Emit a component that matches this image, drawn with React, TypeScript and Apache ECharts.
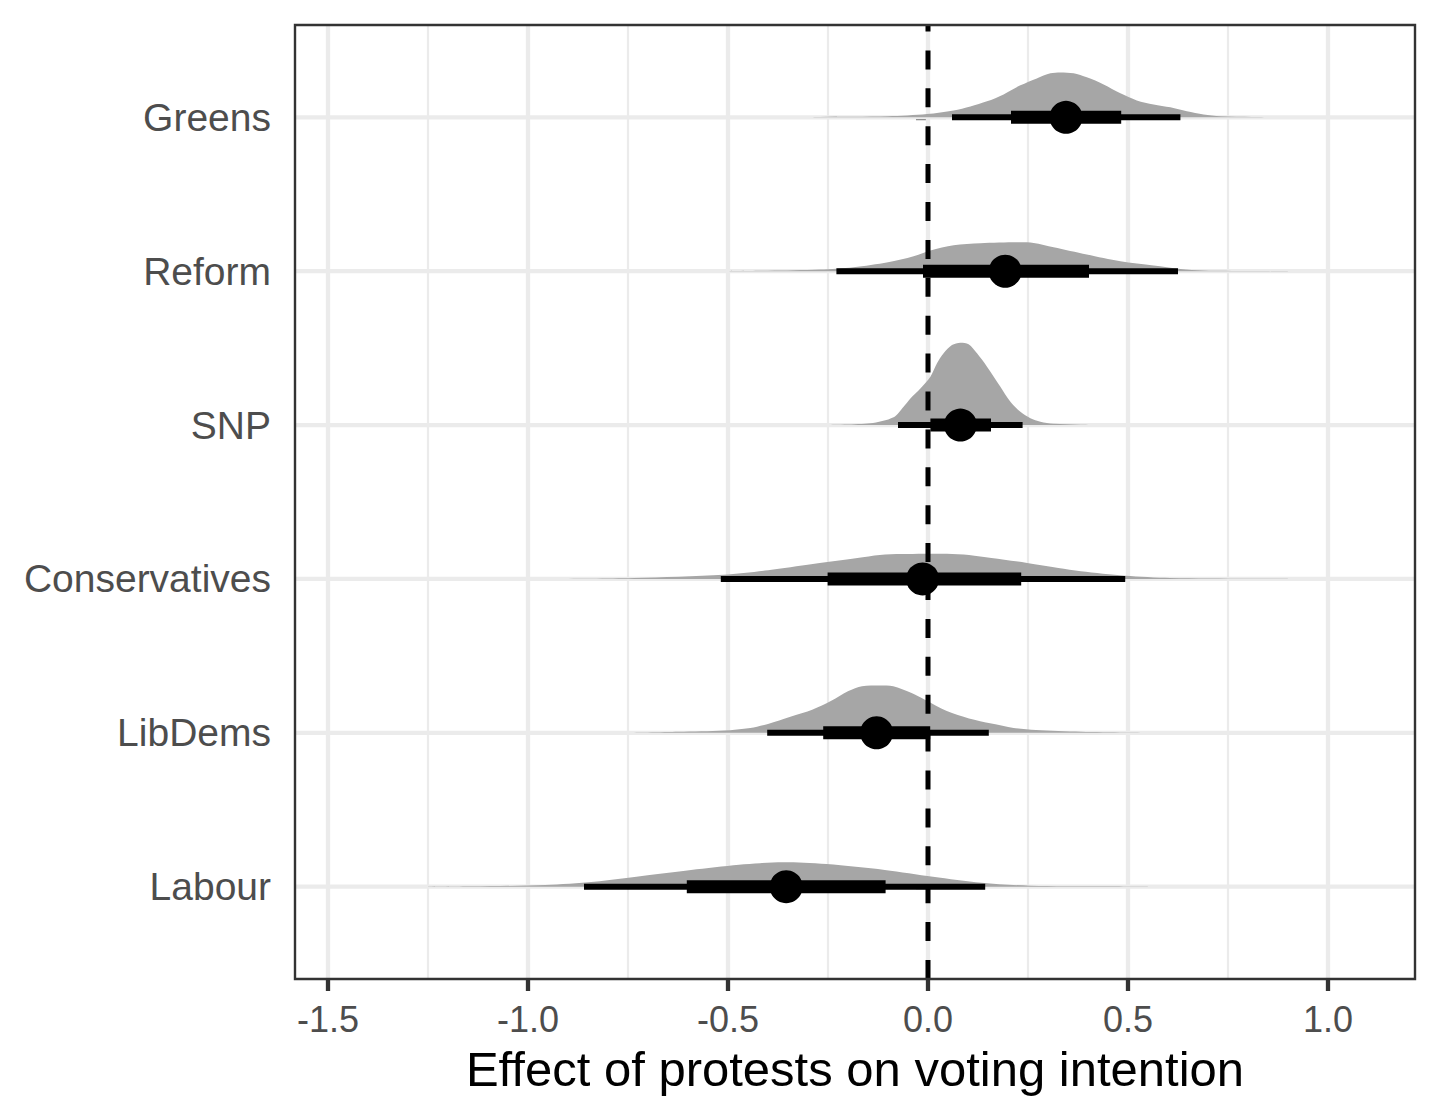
import React, { useEffect, useRef } from "react";
import * as echarts from "echarts";

// ---- categories (bottom to top) ----
const PARTIES = ["Labour", "LibDems", "Conservatives", "SNP", "Reform", "Greens"];

// ---- axis ticks ----
const X_TICKS = [-1.5, -1.0, -0.5, 0.0, 0.5, 1.0];
const X_MINOR = [-1.25, -0.75, -0.25, 0.25, 0.75];
const Y_TICKS = [1, 2, 3, 4, 5, 6];
const X_TITLE = "Effect of protests on voting intention";

// ---- point estimates and intervals (same order as PARTIES) ----
const POINT = [-0.3545, -0.1285, -0.0135, 0.081, 0.193, 0.345];
const THICK_LO = [-0.603, -0.262, -0.251, 0.006, -0.0125, 0.2075];
const THICK_HI = [-0.106, 0.0055, 0.233, 0.1575, 0.4025, 0.483];
const THIN_LO = [-0.86, -0.402, -0.518, -0.075, -0.229, 0.06];
const THIN_HI = [0.143, 0.152, 0.493, 0.2365, 0.625, 0.631];

// ---- densities (height in units of category spacing) ----
const LABOUR_X = [-1.25, -1.14, -0.9575, -0.835, -0.715, -0.5925, -0.4725, -0.42, -0.3625, -0.31, -0.2535, -0.108, 0.0125, 0.134, 0.255, 0.4375, 0.55];
const LABOUR_D = [0, 0.002, 0.011, 0.032, 0.07, 0.109, 0.143, 0.153, 0.158, 0.156, 0.147, 0.109, 0.065, 0.026, 0.0065, 0.002, 0];

const LIBDEMS_X = [-0.75, -0.623, -0.511, -0.444, -0.4, -0.344, -0.288, -0.243, -0.199, -0.165, -0.1205, -0.087, -0.0425, -0.009, 0.047, 0.1025, 0.1585, 0.214, 0.27, 0.382, 0.493, 0.6];
const LIBDEMS_D = [0, 0.0065, 0.015, 0.032, 0.058, 0.104, 0.151, 0.206, 0.271, 0.303, 0.307, 0.303, 0.26, 0.216, 0.141, 0.093, 0.06, 0.032, 0.018, 0.0065, 0.002, 0];

const CON_X = [-1.0, -0.84, -0.7345, -0.511, -0.3995, -0.288, -0.1765, -0.1205, -0.065, 0.047, 0.1025, 0.1585, 0.248, 0.326, 0.382, 0.493, 0.605, 0.8, 0.9];
const CON_D = [0, 0.002, 0.0065, 0.028, 0.057, 0.097, 0.136, 0.156, 0.162, 0.164, 0.156, 0.136, 0.104, 0.071, 0.05, 0.021, 0.0065, 0.0013, 0];

const SNP_X = [-0.25, -0.1445, -0.086, -0.061, -0.044, -0.019, 0.006, 0.0225, 0.039, 0.06, 0.081, 0.1015, 0.1225, 0.1475, 0.181, 0.206, 0.231, 0.256, 0.281, 0.314, 0.381, 0.45];
const SNP_D = [0, 0.011, 0.05, 0.119, 0.173, 0.238, 0.314, 0.401, 0.466, 0.52, 0.535, 0.526, 0.466, 0.379, 0.249, 0.151, 0.086, 0.044, 0.021, 0.008, 0.002, 0];

const REFORM_X = [-0.5, -0.4, -0.27, -0.186, -0.1, -0.036, 0.006, 0.064, 0.131, 0.231, 0.264, 0.314, 0.397, 0.481, 0.564, 0.631, 0.689, 0.8, 0.9];
const REFORM_D = [0, 0.003, 0.011, 0.026, 0.058, 0.097, 0.135, 0.169, 0.182, 0.188, 0.184, 0.156, 0.109, 0.065, 0.037, 0.015, 0.0045, 0.0013, 0];

const GREENS_X = [-0.3, -0.27, -0.1, -0.0025, 0.064, 0.106, 0.1475, 0.189, 0.231, 0.272, 0.306, 0.331, 0.364, 0.397, 0.439, 0.481, 0.522, 0.564, 0.606, 0.647, 0.689, 0.731, 0.81, 0.88];
const GREENS_D = [0, 0.002, 0.0065, 0.021, 0.045, 0.071, 0.104, 0.149, 0.208, 0.253, 0.286, 0.292, 0.286, 0.26, 0.214, 0.156, 0.11, 0.084, 0.065, 0.039, 0.018, 0.0065, 0.002, 0];

const DENS_X = [LABOUR_X, LIBDEMS_X, CON_X, SNP_X, REFORM_X, GREENS_X];
const DENS_D = [LABOUR_D, LIBDEMS_D, CON_D, SNP_D, REFORM_D, GREENS_D];

// ---- axis ranges ----
const X_MIN = -1.5825;
const X_MAX = 1.2175;
const Y_MIN = 0.4;
const Y_MAX = 6.6;

const FONT = "'Liberation Sans', Arial, Helvetica, sans-serif";
const GRID_COLOR = "#EBEBEB";

function buildOption() {
  const vLine = (width: number) => (params: any, api: any) => {
    const x = api.value(0);
    const p1 = api.coord([x, Y_MIN]);
    const p2 = api.coord([x, Y_MAX]);
    return {
      type: "line",
      shape: { x1: p1[0], y1: p1[1], x2: p2[0], y2: p2[1] },
      style: { stroke: GRID_COLOR, lineWidth: width },
    };
  };

  return {
    animation: false,
    backgroundColor: "#ffffff",
    grid: { left: 295, top: 25, width: 1120, height: 954, containLabel: false, outerBoundsMode: "none" },
    xAxis: {
      type: "value",
      min: X_MIN,
      max: X_MAX,
      axisLine: { show: false },
      axisTick: { show: true, customValues: X_TICKS, length: 12, lineStyle: { color: "#333333", width: 4.3 } },
      axisLabel: {
        customValues: X_TICKS,
        formatter: (v: number) => v.toFixed(1),
        fontSize: 36,
        color: "#4D4D4D",
        fontFamily: FONT,
        margin: 22,
      },
      splitLine: { show: false },
      name: X_TITLE,
      nameLocation: "middle",
      nameGap: 65,
      nameTextStyle: { fontSize: 49, color: "#000000", fontFamily: FONT },
    },
    yAxis: {
      type: "value",
      min: Y_MIN,
      max: Y_MAX,
      axisLine: { show: false },
      axisTick: { show: true, customValues: Y_TICKS, length: 12, lineStyle: { color: "#333333", width: 4.3 } },
      axisLabel: {
        customValues: Y_TICKS,
        formatter: (v: number) => PARTIES[Math.round(v) - 1] ?? "",
        fontSize: 39,
        color: "#4D4D4D",
        fontFamily: FONT,
        margin: 24,
      },
      splitLine: { show: false },
    },
    series: [
      {
        type: "custom",
        name: "minorGrid",
        silent: true,
        z: 1,
        data: X_MINOR.map((v) => [v, 1]),
        renderItem: vLine(2.2),
      },
      {
        type: "custom",
        name: "majorGrid",
        silent: true,
        z: 1,
        data: X_TICKS.map((v) => [v, 1]),
        renderItem: vLine(4.3),
      },
      {
        type: "custom",
        name: "hGrid",
        silent: true,
        z: 1,
        data: Y_TICKS.map((v) => [0, v]),
        renderItem: (params: any, api: any) => {
          const y = api.value(1);
          const p1 = api.coord([X_MIN, y]);
          const p2 = api.coord([X_MAX, y]);
          return {
            type: "line",
            shape: { x1: p1[0], y1: p1[1], x2: p2[0], y2: p2[1] },
            style: { stroke: GRID_COLOR, lineWidth: 4.3 },
          };
        },
      },
      {
        type: "custom",
        name: "density",
        silent: true,
        z: 2,
        data: PARTIES.map((_, i) => [POINT[i], i + 1]),
        renderItem: (params: any, api: any) => {
          const i = params.dataIndex;
          const base = i + 1;
          const pts = DENS_X[i].map((x, k) => api.coord([x, base + DENS_D[i][k]]));
          let minX = Infinity, minY = Infinity, maxX = -Infinity, maxY = -Infinity;
          pts.forEach((p: number[]) => {
            minX = Math.min(minX, p[0]);
            maxX = Math.max(maxX, p[0]);
            minY = Math.min(minY, p[1]);
            maxY = Math.max(maxY, p[1]);
          });
          return {
            type: "polygon",
            shape: { points: pts, smooth: 0.3, smoothConstraint: [[minX, minY], [maxX, maxY]] },
            style: { fill: "#A6A6A6" },
          };
        },
      },
      {
        type: "custom",
        name: "zeroLine",
        silent: true,
        z: 3,
        data: [[0, 1]],
        renderItem: (params: any, api: any) => {
          const p1 = api.coord([0, Y_MIN]);
          const p2 = api.coord([0, Y_MAX]);
          return {
            type: "line",
            shape: { x1: p1[0], y1: p1[1], x2: p2[0], y2: p2[1] },
            style: { stroke: "#000000", lineWidth: 5, lineDash: [19, 18.9] },
          };
        },
      },
      {
        type: "custom",
        name: "intervals",
        silent: true,
        z: 4,
        data: PARTIES.map((_, i) => [POINT[i], i + 1]),
        renderItem: (params: any, api: any) => {
          const i = params.dataIndex;
          const y = i + 1;
          const a1 = api.coord([THIN_LO[i], y]);
          const a2 = api.coord([THIN_HI[i], y]);
          const b1 = api.coord([THICK_LO[i], y]);
          const b2 = api.coord([THICK_HI[i], y]);
          return {
            type: "group",
            children: [
              { type: "line", shape: { x1: a1[0], y1: a1[1], x2: a2[0], y2: a2[1] }, style: { stroke: "#000", lineWidth: 6 } },
              { type: "line", shape: { x1: b1[0], y1: b1[1], x2: b2[0], y2: b2[1] }, style: { stroke: "#000", lineWidth: 13 } },
            ],
          };
        },
      },
      {
        type: "scatter",
        name: "points",
        silent: true,
        z: 5,
        symbol: "circle",
        symbolSize: 33,
        itemStyle: { color: "#000000", opacity: 1 },
        data: PARTIES.map((_, i) => [POINT[i], i + 1]),
      },
    ],
    graphic: [
      {
        type: "rect",
        silent: true,
        z: 100,
        shape: { x: 295, y: 25, width: 1120, height: 954 },
        style: { fill: "none", stroke: "#333333", lineWidth: 2.4 },
      },
    ],
  };
}

export default function App() {
  const ref = useRef<HTMLDivElement>(null);
  useEffect(() => {
    if (!ref.current) return;
    const chart = echarts.init(ref.current, null, { renderer: "svg" });
    chart.setOption(buildOption() as any);
    return () => chart.dispose();
  }, []);
  return (
    <div
      ref={ref}
      style={{ position: "absolute", left: 0, top: 0, width: 1440, height: 1120, background: "#ffffff" }}
    />
  );
}
